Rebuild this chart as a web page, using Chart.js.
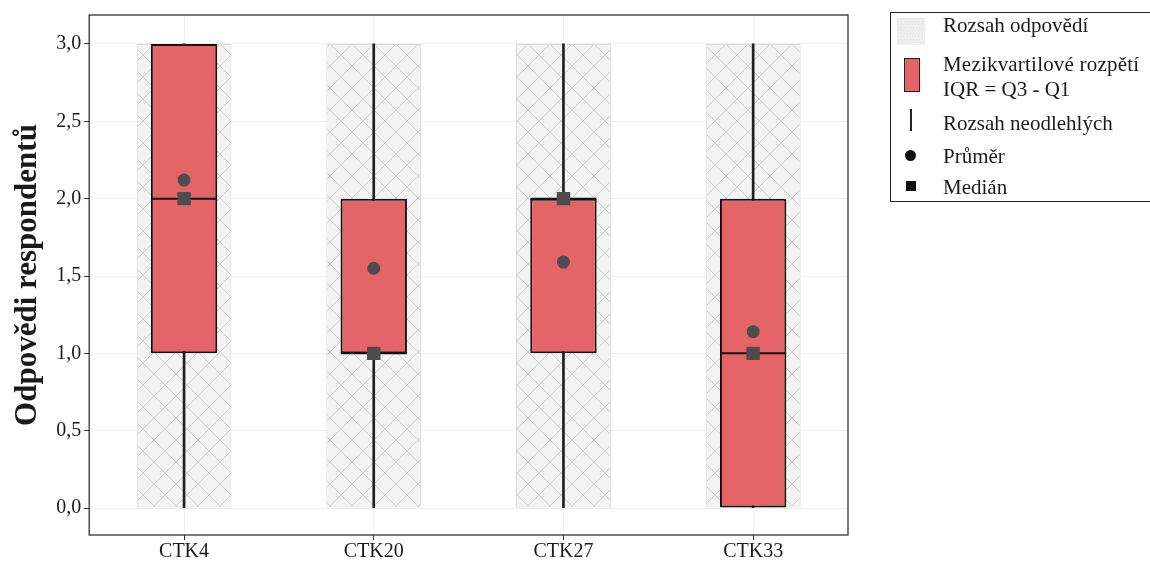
<!DOCTYPE html>
<html>
<head>
<meta charset="utf-8">
<script src="https://cdn.jsdelivr.net/npm/chart.js@4.4.1/dist/chart.umd.min.js"></script>
<style>
  html, body { margin: 0; padding: 0; background: #fff; overflow: hidden; }
  #wrap { position: relative; width: 1150px; height: 564px; }
  #c { position: absolute; left: 0; top: 0; }
  #legend {
    position: absolute; left: 890px; top: 12px; width: 290px; height: 190px;
    border: 1.5px solid #222; box-sizing: border-box;
    font-family: "Liberation Serif", "DejaVu Serif", serif; font-size: 21px; color: #1a1a1a;
  }
  .key { position: absolute; }
  .lbl { position: absolute; left: 52px; white-space: nowrap; line-height: 24px; }
</style>
</head>
<body>
<div id="wrap">
  <canvas id="c" width="1150" height="564"></canvas>
  <div id="legend">
    <div class="key" id="hatchKey" style="left:6px; top:5px; width:28px; height:27px;"></div>
    <div class="lbl" style="top:0px;">Rozsah odpovědí</div>
    <div class="key" style="left:13px; top:45px; width:16px; height:34px; background:#E46467; border:1.5px solid #222; box-sizing:border-box;"></div>
    <div class="lbl" style="top:39px; letter-spacing:0.2px;">Mezikvartilové rozpětí</div>
    <div class="lbl" style="top:64px;">IQR = Q3 - Q1</div>
    <div class="key" style="left:19px; top:96px; width:2px; height:22px; background:#222;"></div>
    <div class="lbl" style="top:98px;">Rozsah neodlehlých</div>
    <div class="key" style="left:14px; top:137px; width:11px; height:11px; border-radius:50%; background:#111;"></div>
    <div class="lbl" style="top:131px;">Průměr</div>
    <div class="key" style="left:14.5px; top:167.5px; width:10px; height:10px; background:#111;"></div>
    <div class="lbl" style="top:162px;">Medián</div>
  </div>
</div>
<script>
// ---- data ----
const categories = ['CTK4', 'CTK20', 'CTK27', 'CTK33'];
const rangeMin   = [0, 0, 0, 0];
const rangeMax   = [3, 3, 3, 3];
const whiskerLow = [0, 0, 0, 0];
const whiskerHigh= [3, 3, 3, 3];
const q1Values   = [1, 1, 1, 0];
const q3Values   = [3, 2, 2, 2];
const medians    = [2, 1, 2, 1];
const means      = [2.12, 1.55, 1.59, 1.14];
const yTickValues = [0, 0.5, 1, 1.5, 2, 2.5, 3];

// ---- hatch pattern ----
function makeHatch(size) {
  const pc = document.createElement('canvas');
  pc.width = size; pc.height = size;
  const g = pc.getContext('2d');
  g.fillStyle = '#F3F3F3';
  g.fillRect(0, 0, size, size);
  g.strokeStyle = '#CFCFCF';
  g.lineWidth = 1;
  g.beginPath();
  g.moveTo(0, 0); g.lineTo(size, size);
  g.moveTo(size, 0); g.lineTo(0, size);
  g.stroke();
  return pc;
}
const ctx = document.getElementById('c').getContext('2d');
const hatch = ctx.createPattern(makeHatch(22), 'repeat');
// legend hatch key (dotted light gray)
(function(){
  const k = document.getElementById('hatchKey');
  const kc = document.createElement('canvas'); kc.width = 28; kc.height = 27;
  const g = kc.getContext('2d');
  g.fillStyle = '#EEEEEE'; g.fillRect(0,0,28,27);
  g.fillStyle = '#E2E2E2';
  for (let y = 0; y < 27; y += 3) for (let x = (y/3)%2 ? 1 : 0; x < 28; x += 3) g.fillRect(x, y, 1, 1);
  k.appendChild(kc);
})();

const zip = (a, b) => a.map((v, i) => [v, b[i]]);
const serif = '"Liberation Serif", "DejaVu Serif", serif';

const borderPlugin = {
  id: 'panelBorder',
  afterDraw(chart) {
    const a = chart.chartArea, c = chart.ctx;
    c.save();
    c.strokeStyle = '#333';
    c.lineWidth = 1.3;
    c.strokeRect(a.left, a.top, a.right - a.left, a.bottom - a.top);
    c.restore();
  }
};

new Chart(ctx, {
  type: 'bar',
  data: {
    labels: categories,
    datasets: [
      {
        label: 'Rozsah odpovědí',
        data: zip(rangeMin, rangeMax),
        backgroundColor: hatch,
        borderColor: '#DADADA',
        borderWidth: 1,
        borderSkipped: false,
        barPercentage: 0.5,
        categoryPercentage: 1,
        grouped: false,
        order: 6
      },
      {
        label: 'Rozsah neodlehlých',
        data: zip(whiskerLow, whiskerHigh),
        backgroundColor: '#1f1f1f',
        borderWidth: 0,
        barThickness: 2,
        grouped: false,
        order: 5
      },
      {
        label: 'IQR',
        data: zip(q1Values, q3Values),
        backgroundColor: '#E46467',
        borderColor: '#111',
        borderWidth: 2,
        borderSkipped: false,
        barPercentage: 0.35,
        categoryPercentage: 1,
        grouped: false,
        order: 4
      },
      {
        type: 'line',
        label: 'median line',
        data: medians,
        showLine: false,
        pointStyle: 'line',
        pointRadius: 33,
        borderColor: '#111',
        borderWidth: 2,
        order: 3
      },
      {
        type: 'line',
        label: 'Medián',
        data: medians,
        showLine: false,
        pointStyle: 'rect',
        pointRadius: 9.5,
        backgroundColor: '#4D4D4D',
        borderWidth: 0,
        order: 2
      },
      {
        type: 'line',
        label: 'Průměr',
        data: means,
        showLine: false,
        pointStyle: 'circle',
        pointRadius: 6.5,
        backgroundColor: '#4D4D4D',
        borderWidth: 0,
        order: 1
      }
    ]
  },
  options: {
    responsive: false,
    animation: false,
    layout: { autoPadding: false, padding: { left: 9, right: 302, top: 14, bottom: 0 } },
    plugins: { legend: { display: false }, tooltip: { enabled: false } },
    scales: {
      x: {
        type: 'category',
        offset: true,
        grid: { offset: false, color: '#EFEFEF', lineWidth: 1, tickColor: '#333', tickLength: 5 },
        border: { display: false },
        ticks: { color: '#1a1a1a', font: { family: serif, size: 20 }, padding: 0 }
      },
      y: {
        min: -0.174,
        max: 3.187,
        afterBuildTicks(scale) { scale.ticks = yTickValues.map(v => ({ value: v })); },
        grid: { color: '#EFEFEF', lineWidth: 1, tickColor: '#333', tickLength: 5 },
        border: { display: false },
        ticks: {
          color: '#1a1a1a',
          font: { family: serif, size: 20 },
          padding: 3,
          callback: v => Number(v).toFixed(1).replace('.', ',')
        },
        title: {
          display: true,
          text: 'Odpovědi respondentů',
          color: '#1a1a1a',
          font: { family: serif, size: 31, weight: 'bold' },
          padding: { top: 0, bottom: 7 }
        }
      }
    }
  },
  plugins: [borderPlugin]
});
</script>
</body>
</html>
